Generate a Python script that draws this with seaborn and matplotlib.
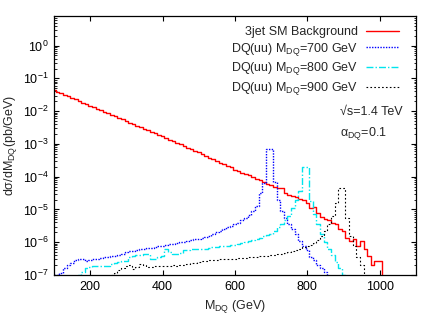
import numpy as np
import pandas as pd
import matplotlib
matplotlib.use('Agg')
import matplotlib.pyplot as plt
import seaborn as sns
from matplotlib.ticker import LogLocator, NullFormatter, FixedLocator

# bin centres (10 GeV bins), last bin is empty so the steps close at the end
m_dq = list(range(100, 1020, 10))

background = [
    4.37e-2, 3.90e-2, 3.55e-2, 3.16e-2, 2.82e-2, 2.57e-2, 2.29e-2, 2.04e-2, 1.82e-2, 1.66e-2,
    1.48e-2, 1.32e-2, 1.20e-2, 1.07e-2, 9.55e-3, 8.71e-3, 7.76e-3, 6.92e-3, 6.17e-3, 5.62e-3,
    5.01e-3, 4.47e-3, 4.07e-3, 3.63e-3, 3.24e-3, 2.88e-3, 2.63e-3, 2.34e-3, 2.09e-3, 1.91e-3,
    1.70e-3, 1.51e-3, 1.35e-3, 1.23e-3, 1.10e-3, 9.77e-4, 8.71e-4, 7.76e-4, 6.92e-4, 6.17e-4,
    5.50e-4, 4.90e-4, 4.27e-4, 3.80e-4, 3.39e-4, 3.02e-4, 2.69e-4, 2.40e-4, 2.14e-4, 1.91e-4,
    1.62e-4, 1.45e-4, 1.32e-4, 1.20e-4, 1.10e-4, 9.55e-5, 8.71e-5, 7.94e-5, 6.92e-5, 6.03e-5,
    5.50e-5, 5.01e-5, 4.37e-5, 4.57e-5, 3.16e-5, 2.82e-5, 2.63e-5, 2.40e-5, 2.09e-5, 1.91e-5,
    1.58e-5, 1.12e-5, 1.20e-5, 7.59e-6, 6.03e-6, 5.01e-6, 4.68e-6, 3.98e-6, 3.55e-6, 2.51e-6,
    2.19e-6, 1.38e-6, 1.10e-6, 1.23e-6, 7.76e-7, 1.10e-6, 6.17e-7, 3.89e-7, 2.00e-7, 2.69e-7,
    2.60e-7, 0,
]

dq_700 = [
    1.02e-7, 1.02e-7, 1.12e-7, 1.58e-7, 2.00e-7, 2.40e-7, 2.82e-7, 3.02e-7, 3.02e-7, 2.69e-7,
    2.82e-7, 3.16e-7, 3.02e-7, 3.31e-7, 3.47e-7, 3.47e-7, 3.80e-7, 3.80e-7, 4.17e-7, 4.37e-7,
    5.01e-7, 5.50e-7, 5.37e-7, 5.75e-7, 6.03e-7, 6.31e-7, 6.61e-7, 6.76e-7, 7.24e-7, 7.59e-7,
    7.94e-7, 8.32e-7, 8.71e-7, 8.91e-7, 9.55e-7, 1.00e-6, 1.05e-6, 1.12e-6, 1.17e-6, 1.23e-6,
    1.26e-6, 1.32e-6, 1.45e-6, 1.58e-6, 1.78e-6, 2.00e-6, 2.24e-6, 2.51e-6, 2.82e-6, 3.16e-6,
    3.55e-6, 3.98e-6, 4.68e-6, 5.62e-6, 6.76e-6, 8.91e-6, 1.26e-5, 3.16e-5, 6.31e-5, 6.92e-4,
    6.92e-4, 7.08e-5, 2.00e-5, 8.91e-6, 5.62e-6, 3.55e-6, 2.51e-6, 1.78e-6, 1.12e-6, 7.94e-7,
    5.62e-7, 3.55e-7, 2.82e-7, 2.00e-7, 1.58e-7, 1.26e-7, 8.90e-8, 0, 0, 0,
    0, 0, 0, 0, 0, 0, 0, 0, 0, 0,
    0, 0,
]

dq_800 = [
    0, 0, 0, 0, 0, 0, 0, 1.00e-7, 1.26e-7, 1.58e-7,
    1.70e-7, 1.82e-7, 1.91e-7, 1.91e-7, 1.86e-7, 1.91e-7, 2.19e-7, 2.40e-7, 2.51e-7, 2.69e-7,
    2.75e-7, 3.55e-7, 3.89e-7, 3.98e-7, 4.17e-7, 4.37e-7, 4.37e-7, 3.02e-7, 3.16e-7, 3.55e-7,
    3.89e-7, 6.03e-7, 5.01e-7, 4.47e-7, 4.37e-7, 4.57e-7, 5.75e-7, 5.89e-7, 6.03e-7, 6.03e-7,
    6.17e-7, 6.31e-7, 6.31e-7, 6.46e-7, 6.92e-7, 7.24e-7, 7.41e-7, 7.76e-7, 7.94e-7, 8.13e-7,
    8.32e-7, 8.71e-7, 9.33e-7, 1.00e-6, 1.10e-6, 1.17e-6, 1.26e-6, 1.38e-6, 1.51e-6, 1.66e-6,
    1.82e-6, 2.24e-6, 2.82e-6, 3.55e-6, 4.68e-6, 6.31e-6, 1.12e-5, 2.00e-5, 3.55e-5, 2.04e-4,
    2.04e-4, 1.78e-5, 7.08e-6, 3.55e-6, 1.78e-6, 1.05e-6, 6.31e-7, 4.17e-7, 2.51e-7, 1.58e-7,
    1.00e-7, 6.30e-8, 0, 0, 0, 0, 0, 0, 0, 0,
    0, 0,
]

dq_900 = [
    0, 0, 0, 0, 0, 0, 0, 0, 0, 0,
    0, 0, 0, 0, 0, 7.94e-8, 1.00e-7, 1.12e-7, 1.41e-7, 1.66e-7,
    1.91e-7, 2.00e-7, 1.51e-7, 1.78e-7, 2.14e-7, 2.09e-7, 1.70e-7, 1.78e-7, 1.82e-7, 1.82e-7,
    1.86e-7, 1.82e-7, 1.91e-7, 1.95e-7, 1.91e-7, 2.00e-7, 2.09e-7, 2.19e-7, 2.29e-7, 2.40e-7,
    2.51e-7, 2.63e-7, 2.75e-7, 2.82e-7, 2.88e-7, 2.95e-7, 3.02e-7, 3.02e-7, 3.09e-7, 3.16e-7,
    3.16e-7, 3.24e-7, 3.31e-7, 3.39e-7, 3.47e-7, 3.55e-7, 3.63e-7, 3.72e-7, 3.80e-7, 3.89e-7,
    3.98e-7, 4.17e-7, 4.27e-7, 4.37e-7, 4.57e-7, 4.90e-7, 5.25e-7, 5.75e-7, 6.31e-7, 6.92e-7,
    7.59e-7, 8.32e-7, 9.55e-7, 1.20e-6, 1.58e-6, 2.24e-6, 3.55e-6, 6.31e-6, 1.58e-5, 4.57e-5,
    4.57e-5, 5.62e-6, 1.58e-6, 7.94e-7, 3.55e-7, 2.00e-7, 7.94e-8, 0, 0, 0,
    0, 0,
]

labels = ['3jet SM Background',
          'DQ(uu) M$_{\\mathrm{DQ}}$=700 GeV',
          'DQ(uu) M$_{\\mathrm{DQ}}$=800 GeV',
          'DQ(uu) M$_{\\mathrm{DQ}}$=900 GeV']
colors = ['#ff0000', '#0000ff', '#00e5ee', '#000000']
styles = ['-', (0, (1, 1)), (0, (5, 1.5, 1, 1.5)), (0, (1.5, 2))]
widths = [1.0, 1.0, 1.0, 0.8]
series = [background, dq_700, dq_800, dq_900]

sns.set_theme(style='ticks')
plt.rcParams['font.family'] = ['Liberation Sans', 'DejaVu Sans']
plt.rcParams['mathtext.fontset'] = 'custom'
plt.rcParams['mathtext.rm'] = 'Liberation Sans'
plt.rcParams['mathtext.it'] = 'Liberation Sans:italic'
plt.rcParams['mathtext.bf'] = 'Liberation Sans:bold'

fig = plt.figure(figsize=(4.36, 3.27), dpi=100)
ax = fig.add_axes([54 / 436, 1 - 275 / 327, 362 / 436, 259 / 327])
ax.set_yscale('log')

for vals, lab, col, ls, lw in zip(series, labels, colors, styles, widths):
    df = pd.DataFrame({'m': m_dq, 'v': vals})
    sns.lineplot(data=df, x='m', y='v', ax=ax, color=col, linestyle=ls,
                 drawstyle='steps-mid', linewidth=lw, label=lab)

ax.set_xlim(100, 1100)
ax.set_ylim(1e-7, 8)
ax.xaxis.set_major_locator(FixedLocator([200, 400, 600, 800, 1000]))
ax.yaxis.set_major_locator(LogLocator(base=10, numticks=20))
ax.yaxis.set_minor_locator(LogLocator(base=10, subs=np.arange(2, 10), numticks=20))
ax.yaxis.set_minor_formatter(NullFormatter())
ax.tick_params(which='both', direction='in', top=True, right=True, labelsize=9, colors='black')
ax.tick_params(which='major', length=3.6, width=0.8, pad=4)
ax.tick_params(which='minor', length=1.8, width=0.6)
for sp in ax.spines.values():
    sp.set_color('black')
    sp.set_linewidth(0.9)

ax.set_xlabel('M$_{\\mathrm{DQ}}$ (GeV)', fontsize=9, labelpad=4)
ax.set_ylabel('d\u03c3/dM$_{\\mathrm{DQ}}$(pb/GeV)', fontsize=9, labelpad=3)

ax.legend(loc='upper right', bbox_to_anchor=(0.985, 1.005), frameon=False, markerfirst=False,
          fontsize=9, handlelength=2.7, labelspacing=0.22, borderaxespad=0.5, handletextpad=0.6)

ax.text(0.79, 0.63, '\u221as=1.4 TeV', transform=ax.transAxes, fontsize=9, va='center', ha='left')
ax.text(0.79, 0.545, '\u03b1$_{\\mathrm{DQ}}$=0.1', transform=ax.transAxes, fontsize=9, va='center', ha='left')

fig.savefig('out.png', dpi=100)
